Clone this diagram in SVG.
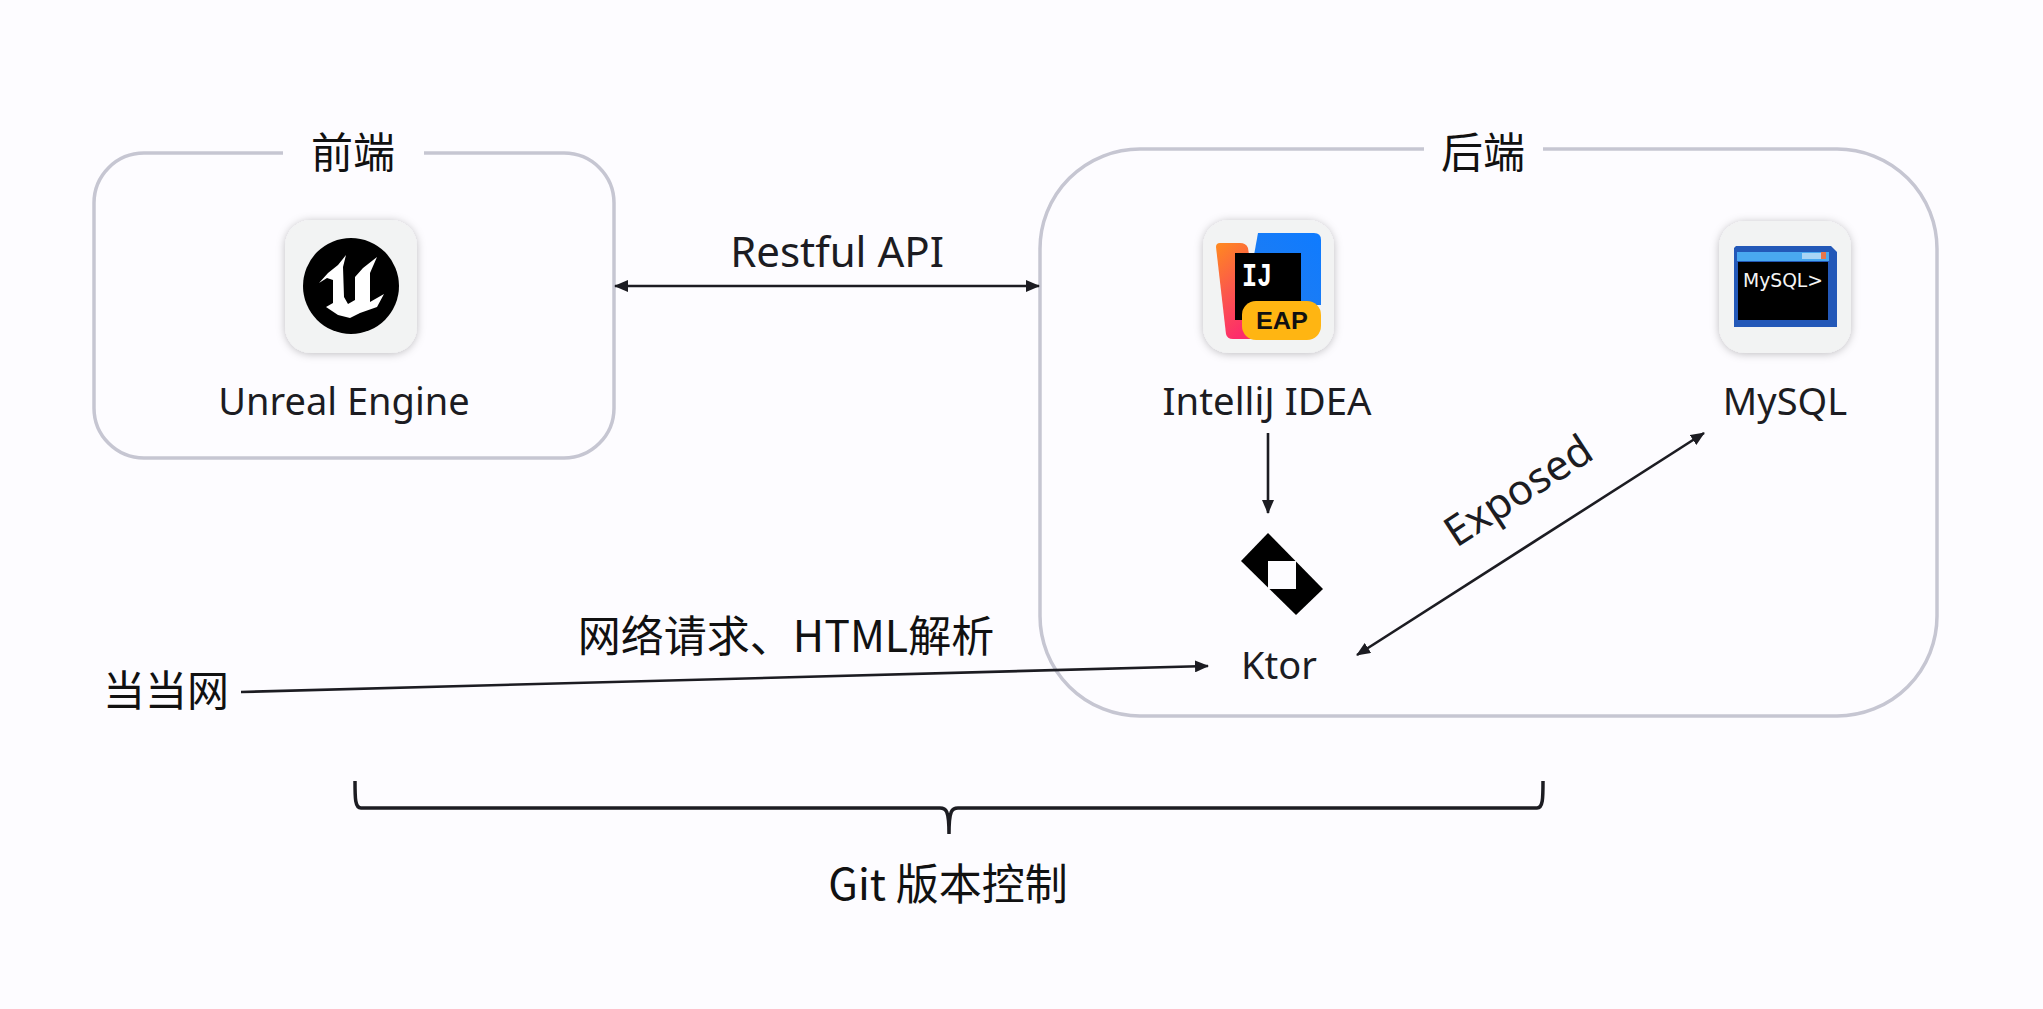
<svg xmlns="http://www.w3.org/2000/svg" width="2043" height="1009" viewBox="0 0 2043 1009">
<style>
.t{font-family:"Noto Sans","Noto Sans CJK SC",sans-serif;font-size:38px;fill:#1c1c22;text-anchor:middle}
.c{font-family:"Noto Sans CJK SC","Noto Sans",sans-serif;font-size:42px;fill:#111;text-anchor:middle}
.box{fill:none;stroke:#c6c6d2;stroke-width:3.5}
.tile{fill:#f2f3f3;filter:url(#sh)}
.ln{fill:none;stroke:#1c1c22;stroke-width:2.6}
</style>
<defs>
<filter id="sh" x="-20%" y="-20%" width="140%" height="140%"><feDropShadow dx="0" dy="1" stdDeviation="4" flood-color="#000" flood-opacity=".25"/></filter>
<marker id="a" viewBox="0 0 14 12" refX="13" refY="6" markerWidth="14" markerHeight="12" markerUnits="userSpaceOnUse" orient="auto-start-reverse"><path d="M0 0L14 6L0 12z" fill="#1c1c22"/></marker>
<linearGradient id="g1" x1="0" y1="0" x2="0.4" y2="1"><stop offset="0" stop-color="#ff8a1f"/><stop offset=".5" stop-color="#fb5a4a"/><stop offset="1" stop-color="#fd2c6b"/></linearGradient>
<linearGradient id="g2" x1="0" y1="1" x2="1" y2="0"><stop offset="0" stop-color="#a04ab0"/><stop offset=".4" stop-color="#1a7cf5"/><stop offset="1" stop-color="#0f7bff"/></linearGradient>
</defs>
<rect width="2043" height="1009" fill="#fdfcff"/>
<g id="frontend">
<path class="box" d="M283 153H144A50 50 0 0 0 94 203V408A50 50 0 0 0 144 458H564A50 50 0 0 0 614 408V203A50 50 0 0 0 564 153H424"/>
<text class="c" x="353" y="168">前端</text>
</g>
<g id="backend">
<path class="box" d="M1424 149H1140A100 100 0 0 0 1040 249V616A100 100 0 0 0 1140 716H1837A100 100 0 0 0 1937 616V249A100 100 0 0 0 1837 149H1543"/>
<text class="c" x="1483" y="168">后端</text>
</g>
<g id="unreal">
<rect class="tile" x="285" y="220" width="132" height="133" rx="26"/>
<circle cx="351" cy="286" r="48" fill="#000"/>
<path fill="#fff" d="M319 283L328 273L338 265L346 255L343 267L344 297L348 304L355 300V277L363 268L377 257L370 273V302L384 294L377 307L360 313L350 318L338 315L326 307L333 303V280L327 278Z"/>
<text class="t" x="344" y="415">Unreal Engine</text>
</g>
<g id="intellij">
<rect class="tile" x="1203" y="220" width="131" height="133" rx="26"/>
<path fill="url(#g2)" d="M1258 233H1314Q1321 233 1321 240V305H1245Z"/>
<path fill="url(#g1)" d="M1220 243H1240Q1246 243 1248 248L1262 339H1233Q1227 339 1226 334L1216 247Q1216 243 1220 243Z"/>
<rect x="1235" y="253" width="66" height="67" fill="#000"/>
<rect x="1242" y="301" width="79" height="39" rx="14" fill="#ffb512"/>
<text x="1282" y="329" text-anchor="middle" font-family="'Liberation Sans',sans-serif" font-weight="700" font-size="24" textLength="52" lengthAdjust="spacingAndGlyphs" fill="#111">EAP</text>
<text x="1257" y="286" text-anchor="middle" font-family="'Liberation Mono',monospace" font-weight="700" font-size="33" textLength="30" lengthAdjust="spacingAndGlyphs" fill="#fff">IJ</text>
<text class="t" style="font-size:38.300px" x="1267" y="415">IntelliJ IDEA</text>
</g>
<g id="mysql">
<rect class="tile" x="1719" y="221" width="132" height="132" rx="26"/>
<path d="M1736 246H1831L1837 252V327H1734V248Z" fill="#2358b8"/>
<rect x="1737" y="252" width="92" height="9" fill="#49a8f0"/>
<rect x="1802" y="253" width="22" height="6" fill="#a9d4f5"/>
<rect x="1821" y="252" width="5" height="7" fill="#e8764a"/>
<rect x="1738" y="262" width="90" height="58" fill="#000"/>
<text x="1783" y="287" text-anchor="middle" font-family="'DejaVu Sans','Liberation Sans',sans-serif" font-size="20" fill="#f4f4f4" textLength="80" lengthAdjust="spacingAndGlyphs">MySQL&gt;</text>
<text class="t" x="1785" y="415">MySQL</text>
</g>
<g id="ktor">
<path d="M1268 533L1241 561L1296 615L1323 589Z" fill="#000"/>
<rect x="1268" y="561" width="28" height="28" fill="#fdfcff"/>
<text class="t" x="1279" y="679">Ktor</text>
</g>
<g id="dangdang">
<text class="c" x="166" y="706">当当网</text>
</g>
<g id="connectors">
<path class="ln" d="M615 286H1039" marker-start="url(#a)" marker-end="url(#a)"/>
<path class="ln" d="M1268 433V513" marker-end="url(#a)"/>
<path class="ln" d="M1357 655L1704 433" marker-start="url(#a)" marker-end="url(#a)"/>
<path class="ln" d="M241 692L1208 666" marker-end="url(#a)"/>
</g>
<g id="labels">
<text class="t" style="font-size:42px" x="837" y="267">Restful API</text>
<text class="t" style="font-size:42px" transform="translate(1526 503) rotate(-33)">Exposed</text>
<text class="c" style="font-size:43px" x="786" y="652">网络请求、HTML解析</text>
</g>
<g id="git">
<path fill="none" stroke="#1c1c22" stroke-width="3.5" d="M355 781C355 798 355 808 361 808H940C946 808 949 810 949 834C949 810 952 808 958 808H1537C1543 808 1543 798 1543 781"/>
<text class="c" style="font-size:43px" x="948" y="900">Git 版本控制</text>
</g>
</svg>
